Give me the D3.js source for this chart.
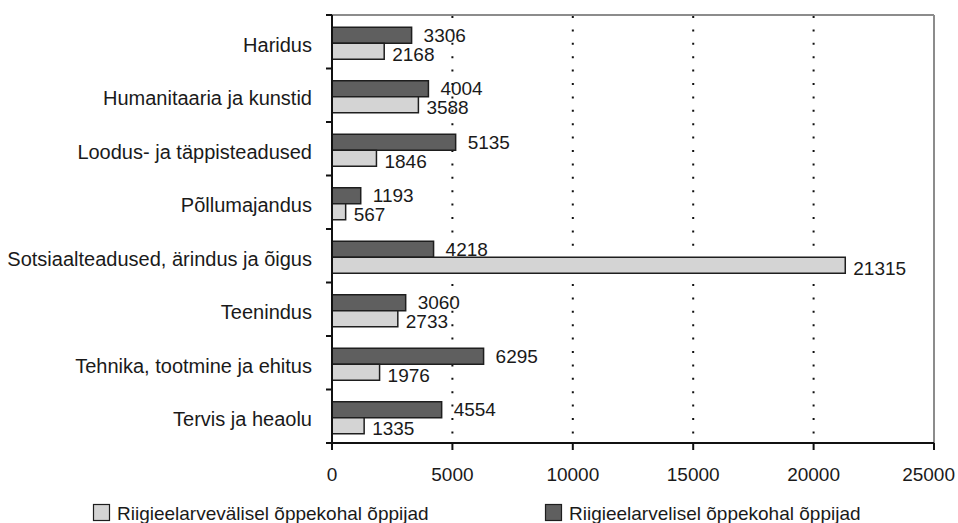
<!DOCTYPE html>
<html><head><meta charset="utf-8">
<script src="https://cdn.jsdelivr.net/npm/d3@7"></script>
<style>body{margin:0;background:#fff;} text{font-family:"Liberation Sans",Arial,sans-serif;fill:#1a1a1a;}</style>
</head><body>
<svg id="c" width="958" height="523"></svg>
<script>
const categories = ["Haridus","Humanitaaria ja kunstid","Loodus- ja täppisteadused","Põllumajandus","Sotsiaalteadused, ärindus ja õigus","Teenindus","Tehnika, tootmine ja ehitus","Tervis ja heaolu"];
const seriesNames = ["Riigieelarvevälisel õppekohal õppijad","Riigieelarvelisel õppekohal õppijad"];
const riigieelarvelisel = [3306,4004,5135,1193,4218,3060,6295,4554];
const riigieelarvevalisel = [2168,3588,1846,567,21315,2733,1976,1335];
const xTicks = [0,5000,10000,15000,20000,25000];
const colors = {dark:"#5f5f5f", light:"#d4d4d4", stroke:"#1e1e1e"};

const svg = d3.select("#c");
const L=332, R=934, T=15, B=443;
const x = d3.scaleLinear().domain([0,25000]).range([L,R]);
const y = d3.scaleBand().domain(categories).range([T,B]);
const barH = 16;

// grid
svg.append("g").selectAll("line").data(xTicks.slice(1,-1)).join("line")
  .attr("x1",d=>x(d)).attr("x2",d=>x(d)).attr("y1",T+1).attr("y2",B)
  .attr("stroke","#111").attr("stroke-width",2).attr("stroke-dasharray","2,11.4");

// frame top/right
svg.append("line").attr("x1",L).attr("x2",R).attr("y1",T).attr("y2",T).attr("stroke","#8c8c8c").attr("stroke-width",2);
svg.append("line").attr("x1",R).attr("x2",R).attr("y1",T).attr("y2",B).attr("stroke","#8c8c8c").attr("stroke-width",2);

const g = svg.append("g");
categories.forEach((c,i)=>{
  const cy = y(c)+y.bandwidth()/2+1.5;
  g.append("rect").attr("x",x(0)).attr("y",cy-barH).attr("width",x(riigieelarvelisel[i])-x(0)).attr("height",barH)
    .attr("fill",colors.dark).attr("stroke",colors.stroke).attr("stroke-width",1.5);
  g.append("rect").attr("x",x(0)).attr("y",cy).attr("width",x(riigieelarvevalisel[i])-x(0)).attr("height",barH)
    .attr("fill",colors.light).attr("stroke",colors.stroke).attr("stroke-width",1.5);
  g.append("text").attr("x",x(riigieelarvelisel[i])+12).attr("y",cy-barH/2-0.5).attr("dy","0.36em")
    .attr("font-size",19).text(riigieelarvelisel[i]);
  g.append("text").attr("x",x(riigieelarvevalisel[i])+8).attr("y",cy+barH/2+2.5).attr("dy","0.36em")
    .attr("font-size",19).text(riigieelarvevalisel[i]);
});

// y axis
const ya = svg.append("g");
ya.append("line").attr("x1",L).attr("x2",L).attr("y1",T).attr("y2",B+7).attr("stroke","#111").attr("stroke-width",2);
d3.range(categories.length+1).forEach(i=>{
  const yy = T + i*y.step();
  ya.append("line").attr("x1",L-6).attr("x2",L).attr("y1",yy).attr("y2",yy).attr("stroke","#111").attr("stroke-width",2);
});
categories.forEach(c=>{
  ya.append("text").attr("x",312).attr("y",y(c)+y.bandwidth()/2+3).attr("dy","0.36em")
    .attr("text-anchor","end").attr("font-size",20).text(c);
});

// x axis
const xa = svg.append("g");
xa.append("line").attr("x1",L-6).attr("x2",R).attr("y1",B).attr("y2",B).attr("stroke","#111").attr("stroke-width",2);
xTicks.forEach((t,i)=>{
  xa.append("line").attr("x1",x(t)).attr("x2",x(t)).attr("y1",B).attr("y2",B+7).attr("stroke","#111").attr("stroke-width",2);
  const last = i===xTicks.length-1;
  xa.append("text").attr("x",last?955:x(t)).attr("y",474).attr("dy","0.36em")
    .attr("text-anchor",last?"end":"middle").attr("font-size",19).text(t);
});

// legend
const leg = [{n:seriesNames[0],c:colors.light,x:93},{n:seriesNames[1],c:colors.dark,x:545}];
leg.forEach(l=>{
  svg.append("rect").attr("x",l.x+0.5).attr("y",504.5).attr("width",16).attr("height",16).attr("fill",l.c).attr("stroke",colors.stroke).attr("stroke-width",1.2);
  svg.append("text").attr("x",l.x+24).attr("y",519.5).attr("font-size",19).text(l.n);
});
</script>
</body></html>
